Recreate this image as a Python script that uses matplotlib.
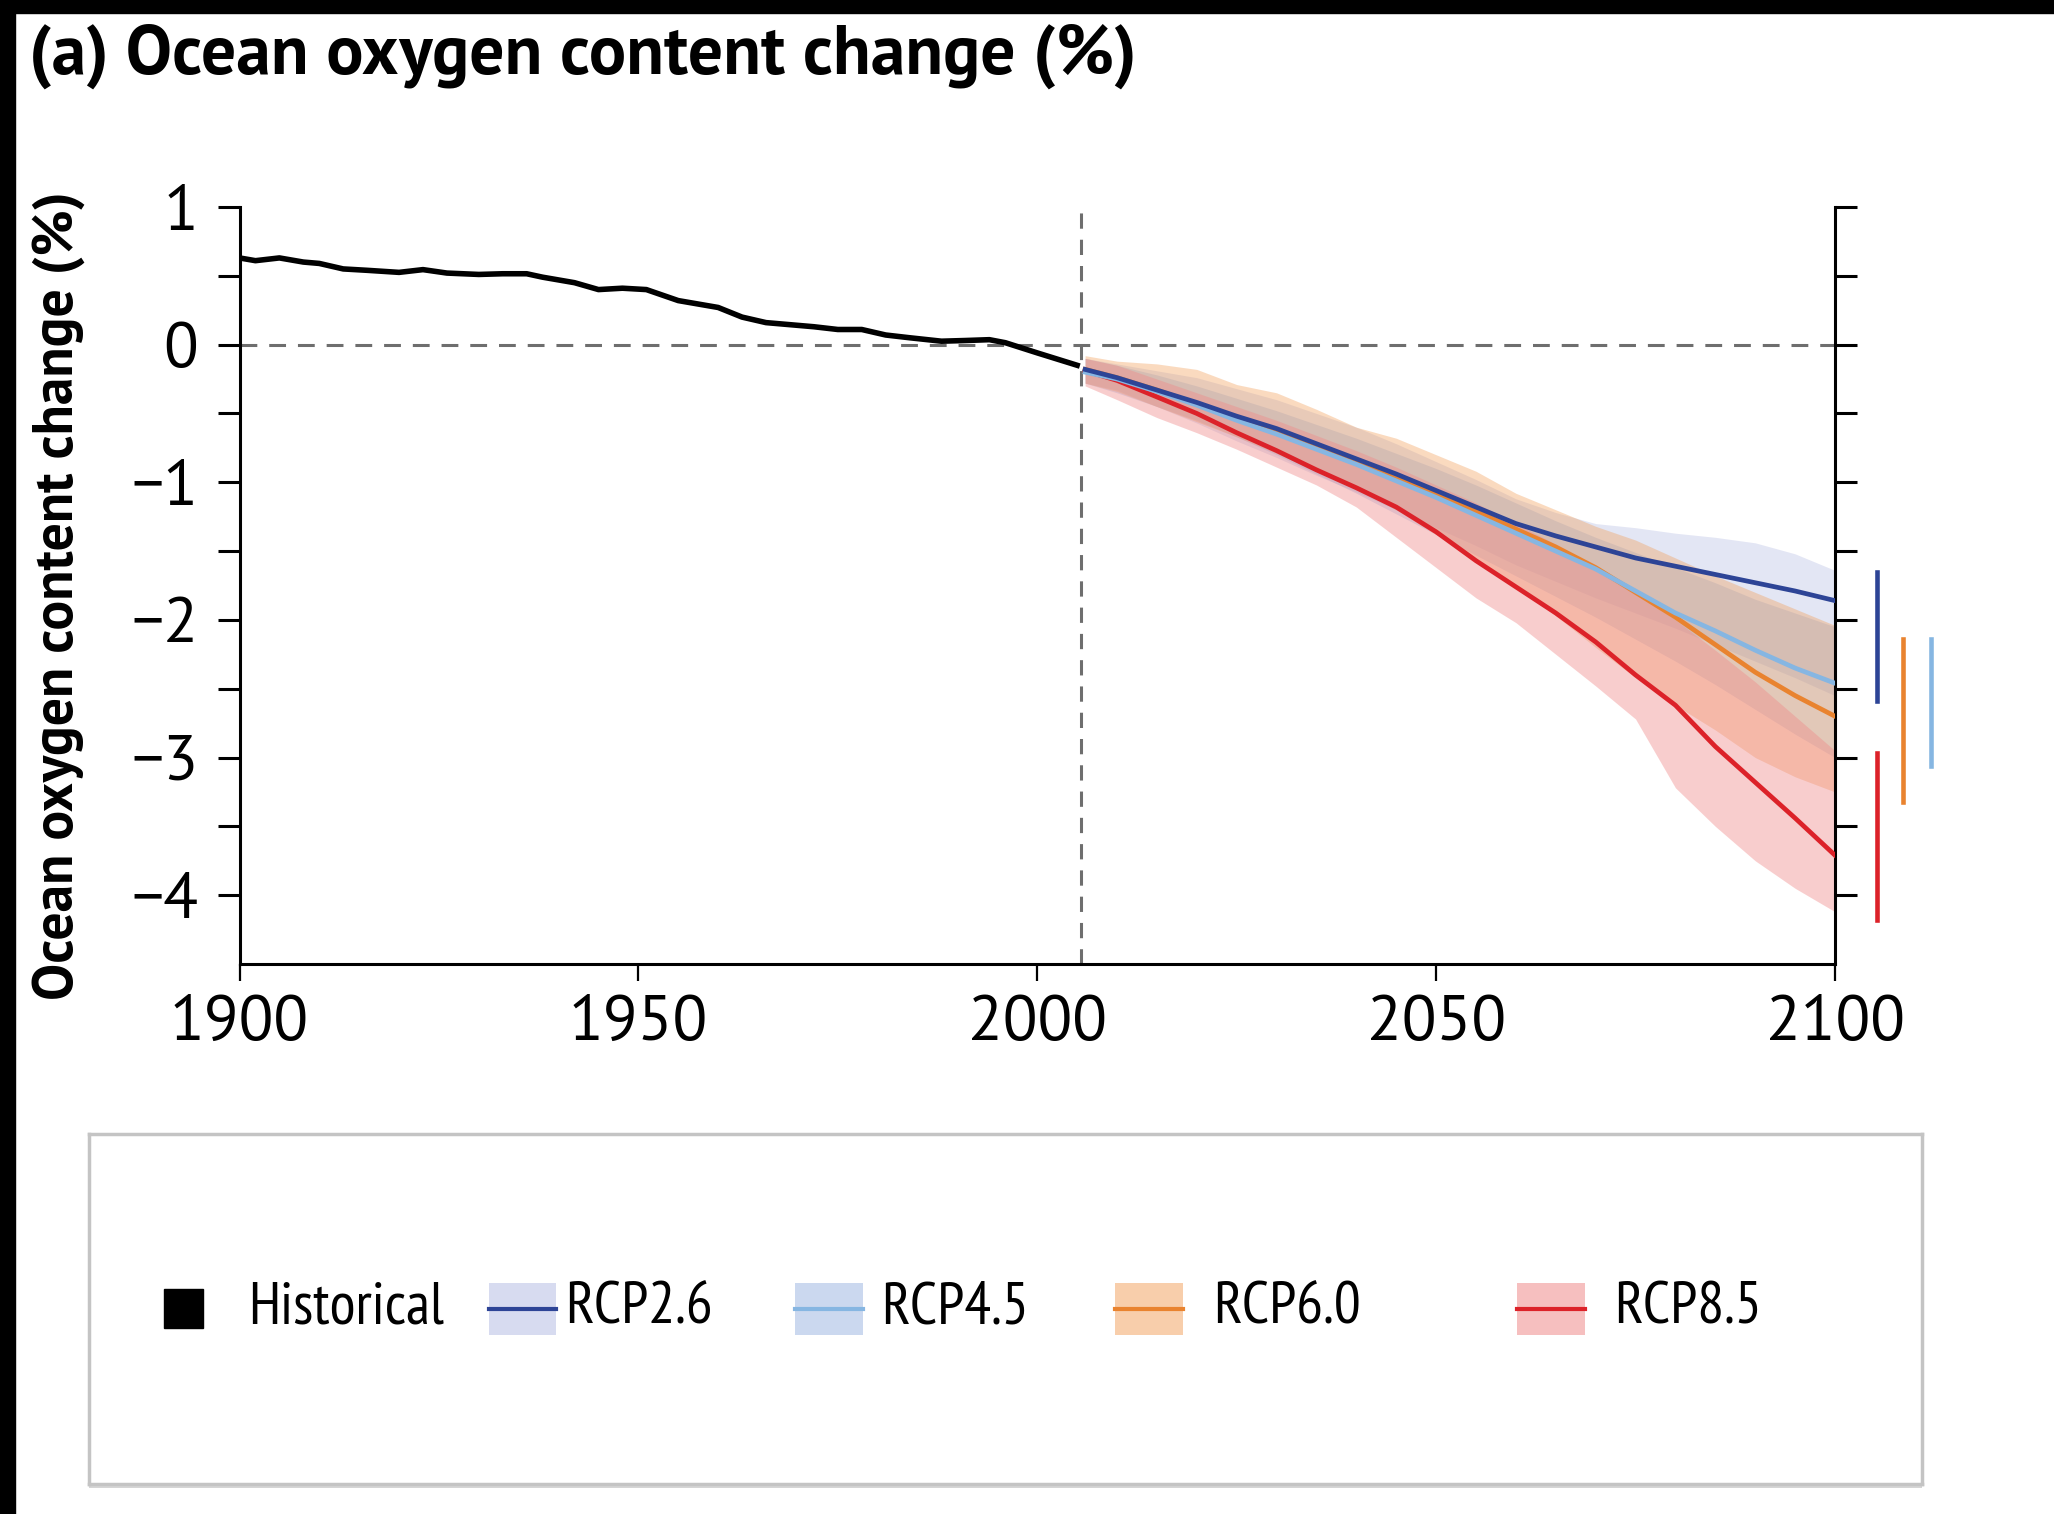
import numpy as np
import matplotlib
matplotlib.use("Agg")
import matplotlib.pyplot as plt
import matplotlib.patheffects as pe
from matplotlib.patches import Rectangle

plt.rcParams['font.family'] = ['PT Sans Narrow', 'DejaVu Sans']
WIDE = ['PT Sans', 'DejaVu Sans']

# ---- data ----
hist_years = [1900, 1902, 1905, 1908, 1910, 1913, 1916, 1920, 1923, 1926, 1930, 1933,
              1936, 1938, 1942, 1945, 1948, 1951, 1955, 1958, 1960, 1963, 1966, 1969,
              1972, 1975, 1978, 1981, 1984, 1988, 1991, 1994, 1996, 2000, 2005]
hist_vals = [0.63, 0.61, 0.63, 0.60, 0.59, 0.55, 0.54, 0.525, 0.545, 0.52, 0.51, 0.515,
             0.515, 0.49, 0.45, 0.40, 0.41, 0.40, 0.32, 0.29, 0.27, 0.20, 0.16, 0.145,
             0.13, 0.11, 0.11, 0.07, 0.05, 0.025, 0.03, 0.036, 0.014, -0.06, -0.15]

proj_years = [2006, 2010, 2015, 2020, 2025, 2030, 2035, 2040, 2045, 2050,
              2055, 2060, 2065, 2070, 2075, 2080, 2085, 2090, 2095, 2100]

rcp26_mean = [-0.18, -0.24, -0.33, -0.42, -0.52, -0.61, -0.72, -0.83, -0.94, -1.06,
              -1.18, -1.30, -1.39, -1.47, -1.55, -1.61, -1.67, -1.73, -1.79, -1.86]
rcp26_hi = [-0.10, -0.14, -0.19, -0.24, -0.32, -0.40, -0.50, -0.60, -0.72, -0.85,
            -0.98, -1.12, -1.22, -1.30, -1.33, -1.37, -1.40, -1.44, -1.52, -1.64]
rcp26_lo = [-0.28, -0.33, -0.45, -0.57, -0.70, -0.82, -0.95, -1.07, -1.20, -1.33,
            -1.46, -1.60, -1.72, -1.84, -1.95, -2.06, -2.18, -2.30, -2.42, -2.55]

rcp45_mean = [-0.20, -0.25, -0.34, -0.44, -0.55, -0.65, -0.76, -0.87, -0.99, -1.11,
              -1.24, -1.37, -1.50, -1.63, -1.79, -1.95, -2.08, -2.22, -2.35, -2.46]
rcp45_hi = [-0.10, -0.15, -0.22, -0.30, -0.39, -0.48, -0.58, -0.68, -0.79, -0.90,
            -1.02, -1.15, -1.28, -1.40, -1.51, -1.62, -1.73, -1.85, -1.95, -2.05]
rcp45_lo = [-0.28, -0.35, -0.45, -0.55, -0.67, -0.80, -0.94, -1.08, -1.23, -1.38,
            -1.53, -1.68, -1.83, -1.98, -2.14, -2.30, -2.47, -2.65, -2.83, -3.00]

rcp60_mean = [-0.18, -0.24, -0.33, -0.43, -0.53, -0.63, -0.74, -0.85, -0.97, -1.09,
              -1.21, -1.34, -1.47, -1.62, -1.80, -1.98, -2.18, -2.38, -2.55, -2.70]
rcp60_hi = [-0.08, -0.12, -0.14, -0.18, -0.29, -0.35, -0.47, -0.60, -0.68, -0.80,
            -0.92, -1.08, -1.20, -1.32, -1.42, -1.55, -1.68, -1.80, -1.92, -2.04]
rcp60_lo = [-0.28, -0.34, -0.45, -0.56, -0.67, -0.79, -0.92, -1.05, -1.20, -1.38,
            -1.55, -1.75, -1.97, -2.20, -2.42, -2.62, -2.80, -3.00, -3.14, -3.25]

rcp85_mean = [-0.19, -0.26, -0.38, -0.50, -0.64, -0.77, -0.91, -1.04, -1.18, -1.36,
              -1.57, -1.76, -1.95, -2.16, -2.40, -2.62, -2.92, -3.18, -3.44, -3.71]
rcp85_hi = [-0.10, -0.15, -0.25, -0.35, -0.45, -0.55, -0.66, -0.77, -0.89, -1.02,
            -1.15, -1.30, -1.45, -1.62, -1.80, -2.00, -2.22, -2.45, -2.70, -2.95]
rcp85_lo = [-0.30, -0.40, -0.53, -0.64, -0.76, -0.89, -1.02, -1.18, -1.40, -1.62,
            -1.84, -2.02, -2.25, -2.48, -2.72, -3.22, -3.50, -3.75, -3.95, -4.12]

# likely ranges at 2100, drawn as bars right of the axes
bar_names = ["RCP2.6", "RCP6.0", "RCP4.5", "RCP8.5"]
bar_x = [2105.3, 2108.5, 2112.0, 2105.3]
bar_top = [-1.65, -2.14, -2.14, -2.97]
bar_bot = [-2.59, -3.32, -3.06, -4.18]

names = ["RCP2.6", "RCP4.5", "RCP6.0", "RCP8.5"]
line_col = {"RCP2.6": "#2d4496", "RCP4.5": "#86b6e2", "RCP6.0": "#e9832f", "RCP8.5": "#dc2229"}
band_col = {"RCP2.6": ("#9aa3d9", 0.27), "RCP4.5": ("#8aa7dc", 0.32),
            "RCP6.0": ("#f29a50", 0.36), "RCP8.5": ("#f08a8a", 0.42)}
means = {"RCP2.6": rcp26_mean, "RCP4.5": rcp45_mean, "RCP6.0": rcp60_mean, "RCP8.5": rcp85_mean}
his = {"RCP2.6": rcp26_hi, "RCP4.5": rcp45_hi, "RCP6.0": rcp60_hi, "RCP8.5": rcp85_hi}
los = {"RCP2.6": rcp26_lo, "RCP4.5": rcp45_lo, "RCP6.0": rcp60_lo, "RCP8.5": rcp85_lo}

W, H = 2054, 1514
fig = plt.figure(figsize=(W / 100, H / 100), dpi=100)
fig.patch.set_facecolor("white")

ax = fig.add_axes([239.5 / W, 1 - 964 / H, (1835 - 239.5) / W, (964 - 207) / H])
ax.set_xlim(1900, 2100)
ax.set_ylim(-4.5, 1)

# reference lines
ax.axhline(0, color="#6e6e6e", lw=2.2, dashes=(5.5, 3.9), zorder=1)
ax.axvline(2005.5, color="#6e6e6e", lw=2.2, dashes=(5.0, 3.6), zorder=1)

# bands
for n in ["RCP2.6", "RCP4.5", "RCP6.0", "RCP8.5"]:
    c, a = band_col[n]
    ax.fill_between(proj_years, los[n], his[n], color=c, alpha=a, lw=0, zorder=2)

# lines
for n in ["RCP8.5", "RCP6.0", "RCP4.5", "RCP2.6"]:
    ax.plot(proj_years, means[n], color=line_col[n], lw=3.4, zorder=3)
ax.plot(hist_years, hist_vals, color="black", lw=4.0, zorder=3)

for n, x, t, b in zip(bar_names, bar_x, bar_top, bar_bot):
    ax.plot([x, x], [t, b], color=line_col[n], lw=3.3, clip_on=False, zorder=3)

# axes styling
ax.spines["top"].set_visible(False)
for s in ["left", "right", "bottom"]:
    ax.spines[s].set_linewidth(2.2)
ax.set_xticks([1900, 1950, 2000, 2050, 2100])
ax.set_yticks([1, 0, -1, -2, -3, -4])
ax.set_yticks(np.arange(-4.0, 1.0, 0.5), minor=True)
ax.tick_params(axis="y", which="both", direction="out", length=15.8, width=2.2,
               right=True, labelsize=46, pad=14)
ax.tick_params(axis="x", direction="out", length=12, width=1.6, labelsize=46, pad=10)
ax.set_xticks([], minor=True)
for t in ax.get_xticklabels() + ax.get_yticklabels():
    t.set_family(WIDE)

fig.text(29 / W, 1 - 74 / H, "(a) Ocean oxygen content change (%)", fontsize=50,
         fontweight="bold", family=WIDE, ha="left", va="baseline")
fig.text(59 / W, 1 - 596 / H, "Ocean oxygen content change (%)", fontsize=40,
         fontweight="bold", family=WIDE, rotation=90, ha="center", va="center")

# legend box
lg = fig.add_axes([89 / W, 1 - 1484 / H, (1922 - 89) / W, (1484 - 1134) / H])
lg.set_xlim(0, 1)
lg.set_ylim(0, 1)
lg.set_xticks([])
lg.set_yticks([])
lg.patch.set_path_effects([pe.SimplePatchShadow(offset=(0, -3), shadow_rgbFace="#888888",
                                                alpha=0.35), pe.Normal()])
for s in lg.spines.values():
    s.set_color("#c4c4c4")
    s.set_linewidth(2.5)

lg.add_patch(Rectangle((0.041, 0.445), 0.021, 0.111, color="black"))
lg.text(0.087, 0.5, "Historical", fontsize=43, ha="left", va="center")
patch_x = [0.218, 0.385, 0.560, 0.779]
text_x = [0.260, 0.432, 0.613, 0.832]
for n, px, tx in zip(names, patch_x, text_x):
    c, a = band_col[n]
    lg.add_patch(Rectangle((px, 0.427), 0.037, 0.146, color=c, alpha=a + 0.12, lw=0))
    lg.plot([px, px + 0.037], [0.5, 0.5], color=line_col[n], lw=3.0)
    lg.text(tx, 0.5, n, fontsize=43, ha="left", va="center")

# black frame strips of the source image
fig.patches.append(Rectangle((0, 1 - 13 / H), 1, 13 / H, transform=fig.transFigure,
                             color="black", zorder=10))
fig.patches.append(Rectangle((0, 0), 15 / W, 1, transform=fig.transFigure,
                             color="black", zorder=10))

fig.savefig("out.png", dpi=100)
